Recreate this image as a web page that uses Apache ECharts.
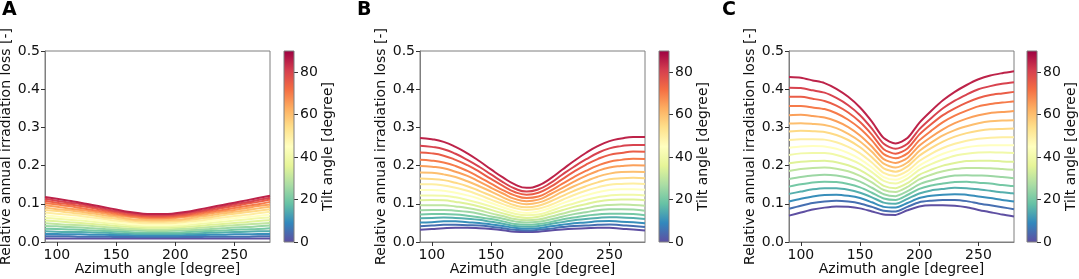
<!DOCTYPE html>
<html>
<head>
<meta charset="utf-8">
<script src="https://cdn.jsdelivr.net/npm/echarts@6/dist/echarts.min.js"></script>
<style>
  html, body { margin: 0; padding: 0; background: #fff; }
  #chart { width: 1079px; height: 279px; }
</style>
</head>
<body>
<div id="chart"></div>
<script>
// azimuth samples (x) and tilt of each curve (colour)
const azimuth = [90, 100, 110, 120, 130, 140, 150, 160, 170, 180, 190, 200, 210, 220, 230, 240, 250, 260, 270, 280]
const tilts = [0, 5, 10, 15, 20, 25, 30, 35, 40, 45, 50, 55, 60, 65, 70, 75, 80, 85]
const xTicks = [100, 150, 200, 250]
const tiltTicks = [0, 20, 40, 60, 80]

// panel A, one row per tilt (bottom -> top)
const lossA = [
  [.009, .009, .009, .009, .009, .009, .009, .009, .009, .009, .009, .009, .009, .009, .009, .009, .009, .009, .009, .009],
  [.015, .015, .015, .014, .014, .014, .013, .013, .013, .013, .013, .013, .013, .013, .014, .014, .014, .014, .015, .015],
  [.021, .021, .020, .020, .019, .019, .018, .018, .017, .017, .017, .017, .018, .018, .019, .019, .020, .020, .021, .021],
  [.028, .027, .026, .026, .025, .024, .023, .022, .021, .021, .021, .021, .022, .023, .024, .025, .026, .027, .028, .028],
  [.035, .034, .033, .032, .030, .029, .028, .026, .025, .025, .025, .025, .026, .028, .029, .030, .032, .033, .034, .036],
  [.042, .041, .039, .038, .036, .034, .032, .031, .030, .029, .029, .030, .031, .032, .034, .036, .038, .039, .041, .043],
  [.049, .047, .045, .044, .042, .039, .037, .035, .034, .033, .033, .034, .035, .037, .039, .042, .044, .046, .048, .050],
  [.056, .054, .052, .050, .047, .045, .042, .040, .038, .037, .037, .038, .040, .042, .045, .047, .050, .052, .055, .057],
  [.063, .061, .058, .056, .053, .050, .047, .044, .042, .041, .041, .042, .044, .047, .050, .053, .056, .059, .062, .064],
  [.070, .067, .064, .062, .058, .055, .052, .048, .046, .045, .045, .046, .048, .052, .055, .058, .062, .065, .068, .072],
  [.077, .074, .071, .068, .064, .060, .056, .053, .050, .049, .049, .050, .053, .056, .060, .064, .068, .071, .075, .079],
  [.084, .081, .077, .074, .070, .065, .061, .057, .054, .053, .053, .054, .057, .061, .065, .070, .074, .078, .082, .086],
  [.090, .086, .083, .079, .075, .070, .066, .061, .058, .057, .057, .058, .061, .066, .070, .075, .079, .083, .088, .092],
  [.096, .092, .088, .084, .080, .075, .070, .066, .063, .061, .061, .063, .066, .070, .075, .080, .084, .089, .094, .098],
  [.102, .098, .094, .089, .084, .079, .074, .069, .066, .064, .064, .066, .069, .074, .079, .084, .089, .094, .099, .105],
  [.108, .103, .099, .094, .089, .083, .078, .072, .069, .067, .067, .069, .072, .078, .083, .089, .094, .100, .105, .111],
  [.113, .108, .103, .099, .093, .087, .081, .076, .072, .070, .070, .072, .076, .081, .087, .093, .099, .104, .110, .116],
  [.118, .113, .108, .103, .097, .091, .085, .079, .075, .073, .073, .075, .079, .085, .091, .097, .103, .109, .115, .121]
]

// panel B
const lossB = [
  [.032, .034, .036, .037, .037, .036, .034, .031, .027, .026, .027, .030, .033, .035, .036, .037, .037, .035, .033, .030],
  [.041, .043, .045, .045, .044, .043, .040, .036, .032, .030, .032, .035, .039, .042, .043, .045, .046, .044, .042, .039],
  [.051, .052, .054, .054, .052, .050, .046, .042, .037, .035, .036, .041, .045, .049, .051, .054, .055, .053, .052, .049],
  [.062, .063, .064, .063, .061, .058, .053, .048, .042, .040, .042, .047, .052, .057, .060, .063, .065, .064, .063, .060],
  [.072, .073, .073, .072, .069, .065, .060, .054, .047, .045, .047, .052, .059, .064, .069, .072, .074, .074, .073, .070],
  [.083, .084, .084, .082, .079, .074, .067, .061, .054, .051, .053, .059, .066, .073, .078, .083, .086, .086, .085, .082],
  [.096, .096, .096, .093, .089, .083, .075, .068, .060, .057, .059, .066, .074, .082, .088, .094, .097, .098, .097, .095],
  [.109, .110, .109, .105, .100, .093, .084, .075, .067, .063, .066, .074, .083, .092, .099, .106, .110, .111, .111, .109],
  [.122, .122, .121, .117, .110, .102, .093, .083, .074, .070, .072, .081, .092, .101, .110, .117, .122, .124, .124, .122],
  [.136, .136, .134, .129, .122, .113, .102, .091, .081, .076, .080, .089, .101, .112, .122, .130, .136, .138, .138, .137],
  [.151, .151, .148, .142, .134, .123, .111, .099, .089, .084, .087, .097, .110, .123, .134, .143, .150, .152, .153, .152],
  [.166, .165, .162, .155, .146, .134, .121, .108, .096, .091, .095, .106, .120, .134, .146, .156, .164, .167, .168, .167],
  [.182, .181, .177, .170, .159, .146, .132, .117, .105, .099, .103, .115, .131, .146, .159, .171, .179, .183, .184, .183],
  [.199, .197, .193, .184, .173, .158, .142, .127, .113, .107, .111, .125, .141, .158, .173, .186, .195, .199, .201, .200],
  [.215, .213, .208, .199, .186, .170, .153, .136, .122, .115, .119, .134, .152, .170, .186, .200, .210, .215, .218, .217],
  [.234, .232, .226, .215, .201, .184, .165, .147, .131, .124, .129, .144, .164, .184, .202, .217, .228, .233, .237, .236],
  [.252, .249, .243, .231, .215, .197, .177, .157, .140, .132, .138, .154, .176, .197, .216, .233, .245, .251, .254, .254],
  [.272, .269, .262, .249, .232, .212, .190, .169, .151, .142, .148, .166, .189, .212, .233, .251, .264, .271, .275, .275]
]

// panel C
const lossC = [
  [.069, .077, .085, .090, .093, .092, .088, .080, .072, .071, .083, .093, .096, .096, .095, .091, .084, .078, .072, .067],
  [.087, .095, .102, .106, .108, .106, .101, .092, .082, .080, .092, .104, .108, .110, .110, .107, .101, .096, .091, .086],
  [.106, .113, .119, .123, .124, .121, .115, .104, .092, .090, .102, .115, .121, .124, .125, .124, .119, .115, .110, .106],
  [.126, .132, .138, .141, .141, .137, .129, .117, .103, .100, .113, .127, .135, .139, .142, .141, .138, .134, .130, .127],
  [.145, .151, .156, .158, .157, .152, .143, .129, .114, .110, .123, .139, .148, .153, .157, .158, .155, .153, .149, .146],
  [.165, .170, .174, .176, .174, .168, .158, .142, .125, .120, .133, .151, .161, .169, .174, .175, .174, .173, .170, .167],
  [.186, .191, .194, .195, .192, .185, .173, .156, .136, .131, .144, .164, .176, .185, .191, .194, .194, .193, .191, .189],
  [.206, .210, .212, .213, .209, .201, .188, .169, .147, .141, .154, .176, .189, .200, .207, .212, .213, .213, .211, .210],
  [.228, .232, .233, .233, .228, .218, .204, .183, .160, .153, .166, .189, .204, .216, .226, .231, .234, .235, .234, .233],
  [.247, .250, .251, .250, .244, .233, .217, .195, .170, .163, .176, .200, .217, .231, .241, .248, .252, .253, .253, .253],
  [.267, .269, .269, .268, .261, .249, .232, .208, .181, .173, .186, .212, .231, .246, .257, .265, .270, .273, .274, .274],
  [.289, .291, .290, .288, .280, .267, .248, .222, .193, .184, .198, .226, .246, .263, .276, .285, .291, .295, .296, .297],
  [.310, .311, .309, .306, .298, .283, .263, .236, .205, .195, .208, .238, .260, .279, .293, .303, .311, .316, .318, .319],
  [.332, .333, .330, .326, .316, .301, .279, .250, .217, .207, .220, .252, .275, .295, .311, .323, .332, .338, .340, .343],
  [.356, .356, .352, .348, .337, .320, .297, .266, .230, .219, .232, .266, .291, .314, .331, .344, .355, .361, .365, .368],
  [.380, .380, .375, .369, .357, .339, .314, .281, .243, .231, .245, .281, .308, .332, .350, .365, .377, .385, .389, .393],
  [.404, .403, .397, .391, .377, .358, .332, .297, .257, .244, .257, .295, .324, .350, .370, .386, .400, .408, .414, .418],
  [.432, .430, .423, .416, .401, .380, .352, .315, .272, .258, .272, .312, .343, .371, .393, .411, .426, .436, .442, .447]
]

const FONT = '"DejaVu Sans", sans-serif'
const FS = 14
const TXT = '#111'
const SPINE = '#7f7f7f'

// Spectral_r colormap
const spectral = ['#5e4fa2', '#3288bd', '#66c2a5', '#abdda4', '#e6f598', '#ffffbf',
  '#fee08b', '#fdae61', '#f46d43', '#d53e4f', '#9e0142']

function hexToRgb(h) {
  return [parseInt(h.substr(1, 2), 16), parseInt(h.substr(3, 2), 16), parseInt(h.substr(5, 2), 16)]
}
function cmap(t) {
  const p = Math.max(0, Math.min(1, t)) * (spectral.length - 1)
  const i = Math.min(Math.floor(p), spectral.length - 2)
  const f = p - i
  const a = hexToRgb(spectral[i])
  const b = hexToRgb(spectral[i + 1])
  const c = a.map((v, k) => Math.round(v + (b[k] - v) * f))
  return 'rgb(' + c.join(',') + ')'
}

const panels = [
  { data: lossA, left: 45, cbLeft: 284, label: 'A', labelLeft: 2, smooth: true },
  { data: lossB, left: 420, cbLeft: 659, label: 'B', labelLeft: 357, smooth: true },
  { data: lossC, left: 789, cbLeft: 1027, label: 'C', labelLeft: 722, smooth: 0.25 }
]
const TOP = 51
const HEIGHT = 191
const WIDTH = 225
const CB_W = 10

const grid = []
const xAxis = []
const yAxis = []
const series = []
const graphic = []

const cbStops = spectral.map((c, i) => ({ offset: i / (spectral.length - 1), color: c }))
const textStyle = { fontSize: FS, color: TXT, fontFamily: FONT }

panels.forEach((p, i) => {
  const gi = grid.length
  grid.push({
    left: p.left, top: TOP, width: WIDTH, height: HEIGHT,
    show: true, borderColor: SPINE, borderWidth: 1, backgroundColor: 'transparent',
    outerBoundsMode: 'none'
  })
  xAxis.push({
    type: 'value', gridIndex: gi, min: 90, max: 280,
    axisLine: { show: true, onZero: false, lineStyle: { color: SPINE } },
    axisTick: { show: true, inside: false, length: 4, customValues: xTicks, lineStyle: { color: '#333' } },
    axisLabel: Object.assign({ customValues: xTicks, margin: 6 }, textStyle),
    splitLine: { show: false },
    name: 'Azimuth angle [degree]', nameLocation: 'middle', nameGap: 20, nameMoveOverlap: false,
    nameTextStyle: textStyle
  })
  yAxis.push({
    type: 'value', gridIndex: gi, min: 0, max: 0.5, interval: 0.1,
    axisLine: { show: true, onZero: false, lineStyle: { color: SPINE } },
    axisTick: { show: true, inside: false, length: 4, lineStyle: { color: '#333' } },
    axisLabel: Object.assign({ margin: 5, formatter: v => v.toFixed(1) }, textStyle),
    splitLine: { show: false },
    name: 'Relative annual irradiation loss [-]', nameLocation: 'middle', nameGap: 31, nameRotate: 90,
    nameTextStyle: textStyle
  })
  p.data.forEach((row, k) => {
    series.push({
      type: 'line', xAxisIndex: gi, yAxisIndex: gi,
      data: row.map((v, j) => [azimuth[j], v]),
      smooth: p.smooth, showSymbol: false, symbol: 'none', silent: true,
      lineStyle: { width: 2, color: cmap(tilts[k] / 90) },
      z: 2 + k
    })
  })

  // colour bar
  const ci = grid.length
  grid.push({
    left: p.cbLeft, top: TOP, width: CB_W, height: HEIGHT,
    show: true, borderColor: SPINE, borderWidth: 1, backgroundColor: 'transparent',
    outerBoundsMode: 'none', z: 5
  })
  xAxis.push({ type: 'category', gridIndex: ci, data: ['tilt'], show: false })
  yAxis.push({
    type: 'value', gridIndex: ci, position: 'right', min: 0, max: 90,
    axisLine: { show: false },
    axisTick: { show: true, inside: false, length: 4, customValues: tiltTicks, lineStyle: { color: '#333' } },
    axisLabel: Object.assign({ customValues: tiltTicks, margin: 6 }, textStyle),
    splitLine: { show: false },
    name: 'Tilt angle [degree]', nameLocation: 'middle', nameGap: 27, nameRotate: 90,
    nameTextStyle: textStyle
  })
  series.push({
    type: 'bar', xAxisIndex: ci, yAxisIndex: ci, data: [90], barWidth: '100%', silent: true,
    itemStyle: { color: new echarts.graphic.LinearGradient(0, 1, 0, 0, cbStops) }
  })

  graphic.push({
    type: 'text', left: p.labelLeft, top: 1,
    style: { text: p.label, font: 'bold 19px ' + FONT, fill: '#000' }
  })
})

const chart = echarts.init(document.getElementById('chart'), null, { renderer: 'canvas' })
chart.setOption({
  animation: false,
  backgroundColor: '#fff',
  grid: grid,
  xAxis: xAxis,
  yAxis: yAxis,
  series: series,
  graphic: graphic
})
</script>
</body>
</html>
